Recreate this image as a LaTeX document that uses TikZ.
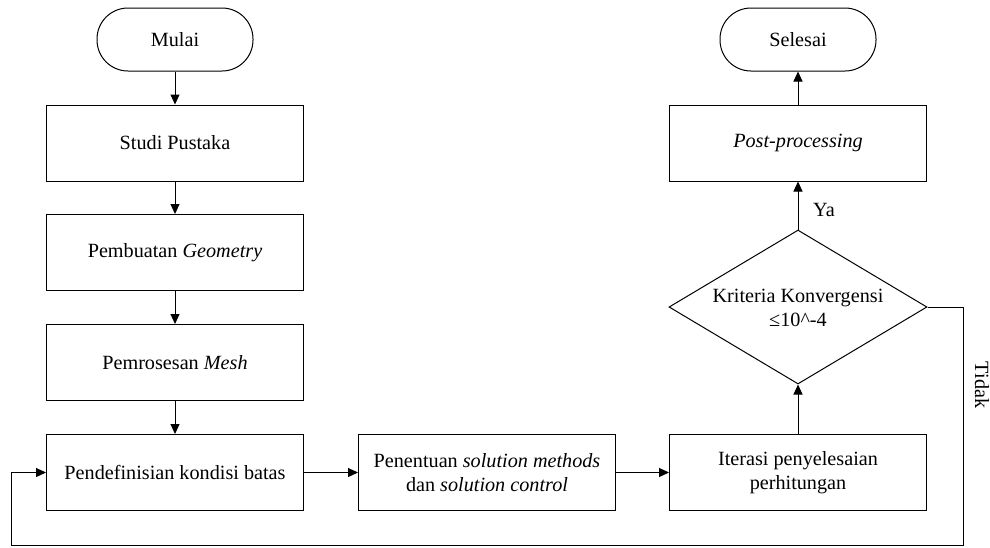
\documentclass[tikz,border=0pt]{standalone}
\usepackage{fontspec}
\setmainfont{Liberation Serif}
\usetikzlibrary{shapes.geometric,arrows.meta}
\begin{document}
\begin{tikzpicture}[x=1pt,y=-1pt,
  font=\fontsize{20.2}{23.5}\selectfont,
  every path/.style={line width=1pt},
  procbox/.style={draw, rectangle, minimum width=257pt, minimum height=76pt, inner sep=0pt, align=center},
  termbox/.style={draw, rectangle, rounded corners=31pt, minimum width=156pt, minimum height=63pt, inner sep=0pt},
  decbox/.style={draw, diamond, aspect=1.675, minimum width=258pt, minimum height=154pt, inner sep=0pt},
  conn/.style={draw, -{Triangle[length=10pt,width=9pt]}}
]
\useasboundingbox (0,0) rectangle (990,547);
\node[termbox] (mulai) at (175,39.5) {Mulai};
\node[procbox] (studi) at (175,143) {Studi Pustaka};
\node[procbox] (geom) at (175,252.5) {Pembuatan \textit{Geometry}};
\node[procbox] (mesh) at (175,362.5) {Pemrosesan \textit{Mesh}};
\node[procbox] (pend) at (175,472.5) {Pendefinisian kondisi batas};
\node[procbox] (pen) at (487,472.5) {Penentuan \textit{solution methods}\\dan \textit{solution control}};
\node[procbox] (iter) at (798,472.5) {Iterasi penyelesaian\\perhitungan};
\node[decbox] (krit) at (798,307) {};
\node[align=center] (kritt) at (798,308) {Kriteria Konvergensi\\≤10\^{}-4};
\node[procbox] (post) at (798,143) {\textit{Post-processing}};
\node[termbox] (selesai) at (798,39.5) {Selesai};
\coordinate (c1) at (963,545);
\coordinate (c2) at (11,545);

\path[conn] (mulai.south) -- (studi.north);
\path[conn] (studi.south) -- (geom.north);
\path[conn] (geom.south) -- (mesh.north);
\path[conn] (mesh.south) -- (pend.north);
\path[conn] (pend.east) -- (pen.west);
\path[conn] (pen.east) -- (iter.west);
\path[conn] (iter.north) -- (krit.south);
\path[conn] (krit.north) -- (post.south);
\path[conn] (post.north) -- (selesai.south);
\path[conn] (krit.east) -| (c1) -- (c2) |- (pend.west);
\node (ya) at (824,210) {Ya};
\node[rotate=-90] (tidak) at (982,385) {Tidak};
\end{tikzpicture}
\end{document}
